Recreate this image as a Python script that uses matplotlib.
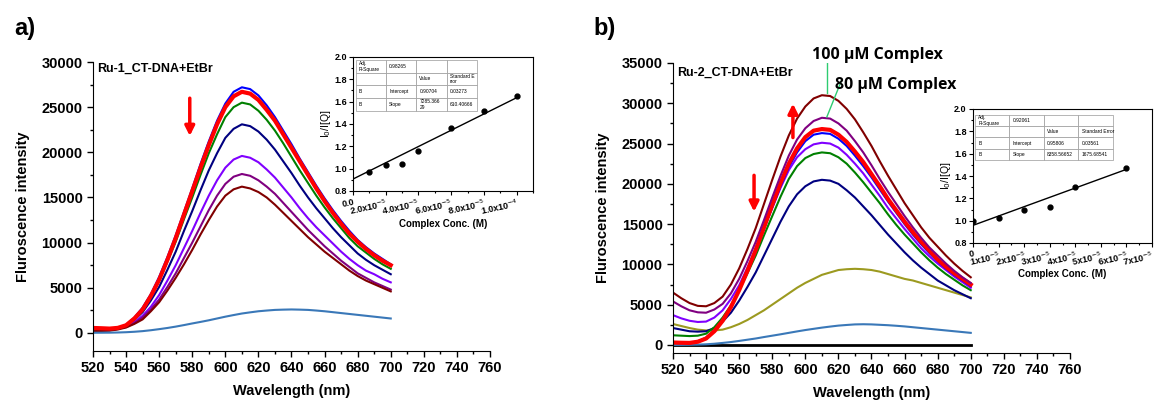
import matplotlib
matplotlib.use("Agg")
import matplotlib.pyplot as plt
from matplotlib.ticker import MultipleLocator

plt.rcParams['font.family'] = ['Liberation Sans', 'DejaVu Sans']

# ---------------- data ----------------
wavelength = list(range(520, 701, 5))

# panel a (Ru-1)
a_blue   = [450, 430, 400, 550, 900, 1700, 2800, 4300, 6200, 8400, 10800, 13400, 16000, 18700, 21200, 23500, 25400, 26700, 27200, 27000,
            26300, 25200, 23900, 22400, 20900, 19300, 17800, 16300, 14900, 13600, 12400, 11300, 10300, 9500, 8800, 8200, 7600]
a_red    = [550, 520, 480, 560, 850, 1600, 2600, 4100, 5900, 8100, 10500, 13100, 15700, 18300, 20800, 23100, 25000, 26200, 26700, 26500,
            25800, 24700, 23500, 22000, 20500, 19000, 17500, 16000, 14600, 13300, 12100, 11000, 10100, 9300, 8600, 8000, 7500]
a_green  = [300, 320, 350, 500, 850, 1600, 2600, 4000, 5800, 7900, 10100, 12600, 15000, 17500, 19900, 22000, 23900, 25000, 25500, 25300,
            24600, 23600, 22400, 21000, 19500, 18000, 16600, 15200, 13900, 12700, 11600, 10500, 9600, 8900, 8200, 7600, 7100]
a_navy   = [250, 270, 300, 450, 800, 1450, 2300, 3600, 5100, 7000, 9000, 11300, 13500, 15800, 18000, 19900, 21600, 22600, 23100, 22900,
            22300, 21400, 20300, 19000, 17700, 16300, 15000, 13800, 12700, 11600, 10600, 9700, 8800, 8100, 7500, 7000, 6500]
a_violet = [350, 350, 350, 450, 700, 1200, 1900, 2900, 4200, 5800, 7500, 9400, 11300, 13300, 15200, 16900, 18300, 19200, 19600, 19400,
            18900, 18100, 17200, 16100, 15000, 13800, 12700, 11700, 10800, 9900, 9000, 8200, 7500, 6900, 6500, 6000, 5600]
a_purple = [400, 400, 400, 480, 650, 1100, 1700, 2600, 3700, 5100, 6600, 8300, 10000, 11800, 13600, 15200, 16500, 17300, 17600, 17400,
            16900, 16200, 15400, 14400, 13400, 12400, 11400, 10500, 9600, 8800, 8000, 7300, 6600, 6100, 5600, 5200, 4800]
a_brown  = [200, 220, 250, 380, 600, 1000, 1500, 2400, 3400, 4700, 6100, 7600, 9200, 10900, 12500, 14000, 15200, 15900, 16200, 16000,
            15600, 15000, 14200, 13300, 12400, 11500, 10600, 9800, 9000, 8300, 7600, 6900, 6300, 5800, 5400, 5000, 4600]
a_dna    = [20, 25, 30, 50, 80, 130, 200, 300, 420, 550, 700, 870, 1050, 1220, 1400, 1600, 1800, 1980, 2150, 2280,
            2400, 2480, 2550, 2580, 2600, 2580, 2550, 2480, 2400, 2300, 2200, 2100, 2000, 1900, 1800, 1700, 1600]

# panel b (Ru-2)
b_black  = [0] * 37
b_dna    = [0, 10, 20, 40, 80, 150, 250, 360, 500, 650, 800, 980, 1150, 1320, 1500, 1680, 1850, 2000, 2150, 2280,
            2400, 2480, 2550, 2570, 2550, 2500, 2450, 2380, 2300, 2200, 2100, 2000, 1900, 1800, 1700, 1600, 1500]
b_olive  = [2600, 2350, 2100, 1900, 1800, 1800, 1900, 2200, 2600, 3100, 3700, 4300, 5000, 5700, 6400, 7100, 7700, 8200, 8700, 9000,
            9300, 9400, 9450, 9400, 9300, 9100, 8800, 8500, 8200, 8000, 7700, 7400, 7100, 6800, 6500, 6200, 5900]
b_navy   = [2100, 1900, 1700, 1650, 1700, 2100, 2900, 4000, 5500, 7200, 9000, 11100, 13200, 15300, 17200, 18700, 19700, 20300, 20500, 20400,
            20000, 19200, 18300, 17200, 16100, 14900, 13700, 12600, 11500, 10500, 9600, 8800, 8000, 7400, 6800, 6300, 5800]
b_green  = [1200, 1150, 1100, 1150, 1400, 2200, 3400, 4900, 6800, 8900, 11100, 13600, 16000, 18400, 20600, 22200, 23200, 23700, 23900, 23800,
            23300, 22500, 21400, 20200, 18900, 17600, 16200, 14900, 13700, 12600, 11500, 10500, 9600, 8800, 8100, 7400, 6800]
b_violet = [3700, 3300, 3000, 2850, 2900, 3400, 4300, 5700, 7400, 9600, 11900, 14500, 17000, 19500, 21700, 23300, 24300, 24900, 25100, 25000,
            24500, 23600, 22500, 21300, 19900, 18500, 17000, 15700, 14400, 13200, 12000, 11000, 10100, 9300, 8500, 7800, 7100]
b_blue   = [250, 250, 250, 450, 900, 1800, 3100, 4800, 6800, 9200, 11700, 14400, 17100, 19700, 22100, 23900, 25300, 26100, 26300, 26200,
            25600, 24700, 23500, 22200, 20800, 19300, 17800, 16400, 15000, 13700, 12500, 11400, 10400, 9500, 8700, 8000, 7300]
b_red    = [300, 270, 250, 400, 800, 1700, 3000, 4700, 6800, 9200, 11800, 14600, 17400, 20100, 22500, 24400, 25800, 26600, 26800, 26700,
            26100, 25200, 24000, 22700, 21200, 19700, 18100, 16700, 15300, 14000, 12800, 11700, 10600, 9700, 8900, 8200, 7500]
b_purple = [5400, 4800, 4300, 4050, 4000, 4400, 5100, 6400, 8200, 10400, 12800, 15500, 18300, 21000, 23500, 25500, 26900, 27800, 28200, 28100,
            27500, 26600, 25300, 23900, 22300, 20600, 19000, 17500, 16000, 14600, 13300, 12100, 11100, 10100, 9200, 8400, 7700]
b_brown  = [6500, 5800, 5200, 4850, 4800, 5200, 6000, 7500, 9500, 11900, 14500, 17500, 20500, 23400, 26000, 28100, 29600, 30600, 31000, 30900,
            30300, 29300, 28000, 26400, 24700, 22800, 21000, 19300, 17600, 16100, 14600, 13300, 12200, 11100, 10100, 9200, 8400]

# Stern-Volmer insets
a_conc  = [1e-5, 2e-5, 3e-5, 4e-5, 6e-5, 8e-5, 1e-4]
a_ratio = [0.97, 1.03, 1.04, 1.16, 1.36, 1.52, 1.65]
a_fit   = (0.90704, 7285.36629)
b_conc  = [0, 1e-5, 2e-5, 3e-5, 4e-5, 6e-5]
b_ratio = [1.00, 1.02, 1.10, 1.12, 1.30, 1.47]
b_fit   = (0.95806, 8358.56652)

a_table = [["Adj.\nR-Square", "0.98265", "", ""],
           ["", "", "Value", "Standard E\nrror"],
           ["B", "Intercept", "0.90704", "0.03273"],
           ["B", "Slope", "7285.366\n29", "610.40666"]]
b_table = [["Adj.\nR-Square", "0.92061", "", ""],
           ["", "", "Value", "Standard Error"],
           ["B", "Intercept", "0.95806", "0.03561"],
           ["B", "Slope", "8358.56652", "1675.68541"]]

a_xticks = [0, 2e-5, 4e-5, 6e-5, 8e-5, 1e-4]
a_xlabels = ["0.0", "2.0x10$^{-5}$", "4.0x10$^{-5}$", "6.0x10$^{-5}$", "8.0x10$^{-5}$", "1.0x10$^{-4}$"]
b_xticks = [0, 1e-5, 2e-5, 3e-5, 4e-5, 5e-5, 6e-5, 7e-5]
b_xlabels = ["0", "1x10$^{-5}$", "2x10$^{-5}$", "3x10$^{-5}$", "4x10$^{-5}$",
             "5x10$^{-5}$", "6x10$^{-5}$", "7x10$^{-5}$"]

W, H = 1160, 403
fig = plt.figure(figsize=(W / 100, H / 100), dpi=100)


def px_axes(x0, y0, x1, y1):
    # pixel box (left, top, right, bottom) -> figure axes
    return fig.add_axes([x0 / W, 1 - y1 / H, (x1 - x0) / W, (y1 - y0) / H])


def style_main(ax, ymax, ymin):
    ax.set_xlim(520, 760)
    ax.set_ylim(ymin, ymax)
    ax.spines['top'].set_visible(False)
    ax.spines['right'].set_visible(False)
    ax.xaxis.set_major_locator(MultipleLocator(20))
    ax.xaxis.set_minor_locator(MultipleLocator(10))
    ax.yaxis.set_major_locator(MultipleLocator(5000))
    ax.yaxis.set_minor_locator(MultipleLocator(2500))
    ax.tick_params(which='major', direction='out', length=4, width=1, labelsize=10.5)
    ax.tick_params(which='minor', direction='out', length=2.5, width=1)
    for lab in ax.get_xticklabels() + ax.get_yticklabels():
        lab.set_fontweight('bold')
    ax.set_xlabel("Wavelength (nm)", fontsize=10.5, fontweight='bold', labelpad=6)
    ax.set_ylabel("Fluroscence intensity", fontsize=10.5, fontweight='bold', labelpad=8)


def style_inset(ax, xmax, xticks, xlabels, fs, table, tb):
    ax.set_xlim(0, xmax)
    ax.set_ylim(0.8, 2.0)
    ax.set_xticks(xticks)
    ax.set_xticklabels(xlabels, fontsize=fs, fontweight='bold', rotation=12,
                       ha='right', rotation_mode='anchor')
    ax.xaxis.set_minor_locator(MultipleLocator(xticks[1] / 2))
    ax.yaxis.set_major_locator(MultipleLocator(0.2))
    ax.yaxis.set_minor_locator(MultipleLocator(0.1))
    ax.tick_params(which='major', direction='out', length=3, width=0.8, labelsize=6.5, pad=1.5)
    ax.tick_params(which='minor', direction='out', length=1.5, width=0.8)
    for lab in ax.get_yticklabels():
        lab.set_fontweight('bold')
    ax.set_xlabel("Complex Conc. (M)", fontsize=7, fontweight='bold', labelpad=1)
    ax.set_ylabel("I$_0$/I[Q]", fontsize=7.5, labelpad=1)
    tab = ax.table(cellText=table, bbox=tb, cellLoc='left')
    tab.auto_set_font_size(False)
    tab.set_fontsize(3.5)
    for cell in tab.get_celld().values():
        cell.set_edgecolor('#999999')
        cell.set_linewidth(0.5)


# ---------------- panel a ----------------
ax1 = px_axes(93, 62, 490, 351)
ax1.plot(wavelength, a_blue, color='#0000ff', lw=1.5)
ax1.plot(wavelength, a_green, color='#008000', lw=1.5)
ax1.plot(wavelength, a_navy, color='#000080', lw=1.5)
ax1.plot(wavelength, a_violet, color='#8000ff', lw=1.5)
ax1.plot(wavelength, a_purple, color='#800080', lw=1.5)
ax1.plot(wavelength, a_brown, color='#800000', lw=1.5)
ax1.plot(wavelength, a_red, color='#ff0000', lw=3)
ax1.plot(wavelength, a_dna, color='#3a78b8', lw=1.5)
style_main(ax1, 30000, -2000)
ax1.text(0.01, 0.975, "Ru-1_CT-DNA+EtBr", transform=ax1.transAxes, fontsize=9,
         fontweight='bold', va='center', ha='left')
ax1.annotate("", xy=(578.5, 21500), xytext=(578.5, 26300),
             arrowprops=dict(arrowstyle='-|>', color='red', lw=2.5, mutation_scale=14))
fig.text(25 / W, 1 - 28 / H, "a)", fontsize=17, fontweight='bold', ha='center', va='center')

ins1 = px_axes(353, 57, 533, 191)
xs = [0, 1e-4]
ins1.plot(xs, [a_fit[0] + a_fit[1] * x for x in xs], color='black', lw=1)
ins1.plot(a_conc, a_ratio, 'o', color='black', ms=3.5)
style_inset(ins1, 1.1e-4, a_xticks, a_xlabels, 6.5, a_table, [0.017, 0.6, 0.67, 0.378])

# ---------------- panel b ----------------
ax2 = px_axes(673, 63, 1070, 353)
ax2.plot(wavelength, b_black, color='black', lw=2)
ax2.plot(wavelength, b_dna, color='#3a78b8', lw=1.5)
ax2.plot(wavelength, b_olive, color='#9c9a20', lw=1.5)
ax2.plot(wavelength, b_navy, color='#000080', lw=1.5)
ax2.plot(wavelength, b_green, color='#008000', lw=1.5)
ax2.plot(wavelength, b_violet, color='#8000ff', lw=1.5)
ax2.plot(wavelength, b_blue, color='#0000ff', lw=1.5)
ax2.plot(wavelength, b_red, color='#ff0000', lw=3)
ax2.plot(wavelength, b_purple, color='#800080', lw=1.5)
ax2.plot(wavelength, b_brown, color='#800000', lw=1.5)
style_main(ax2, 35000, -1000)
ax2.text(0.01, 0.966, "Ru-2_CT-DNA+EtBr", transform=ax2.transAxes, fontsize=9,
         fontweight='bold', va='center', ha='left')
ax2.annotate("", xy=(592.5, 30300), xytext=(592.5, 25400),
             arrowprops=dict(arrowstyle='-|>', color='red', lw=2.5, mutation_scale=14))
ax2.annotate("", xy=(569, 16200), xytext=(569, 21400),
             arrowprops=dict(arrowstyle='-|>', color='red', lw=2.5, mutation_scale=14))
ax2.plot([613, 613], [35000, 31300], color='#2ecc71', lw=1)
ax2.plot([622, 613], [32900, 28300], color='#2ecc71', lw=1)
fig.text(812 / W, 1 - 55 / H, "100 \u00b5M Complex", fontsize=11.5, fontweight='bold',
         family='Open Sans', ha='left', va='center')
fig.text(835 / W, 1 - 85 / H, "80 \u00b5M Complex", fontsize=11.5, fontweight='bold',
         family='Open Sans', ha='left', va='center')
fig.text(605 / W, 1 - 28 / H, "b)", fontsize=17, fontweight='bold', ha='center', va='center')

ins2 = px_axes(973, 109, 1152, 243)
xs = [0, 6e-5]
ins2.plot(xs, [b_fit[0] + b_fit[1] * x for x in xs], color='black', lw=1)
ins2.plot(b_conc, b_ratio, 'o', color='black', ms=3.5)
style_inset(ins2, 7e-5, b_xticks, b_xlabels, 5.5, b_table, [0.01, 0.62, 0.77, 0.335])

fig.savefig("out.png", dpi=100)
